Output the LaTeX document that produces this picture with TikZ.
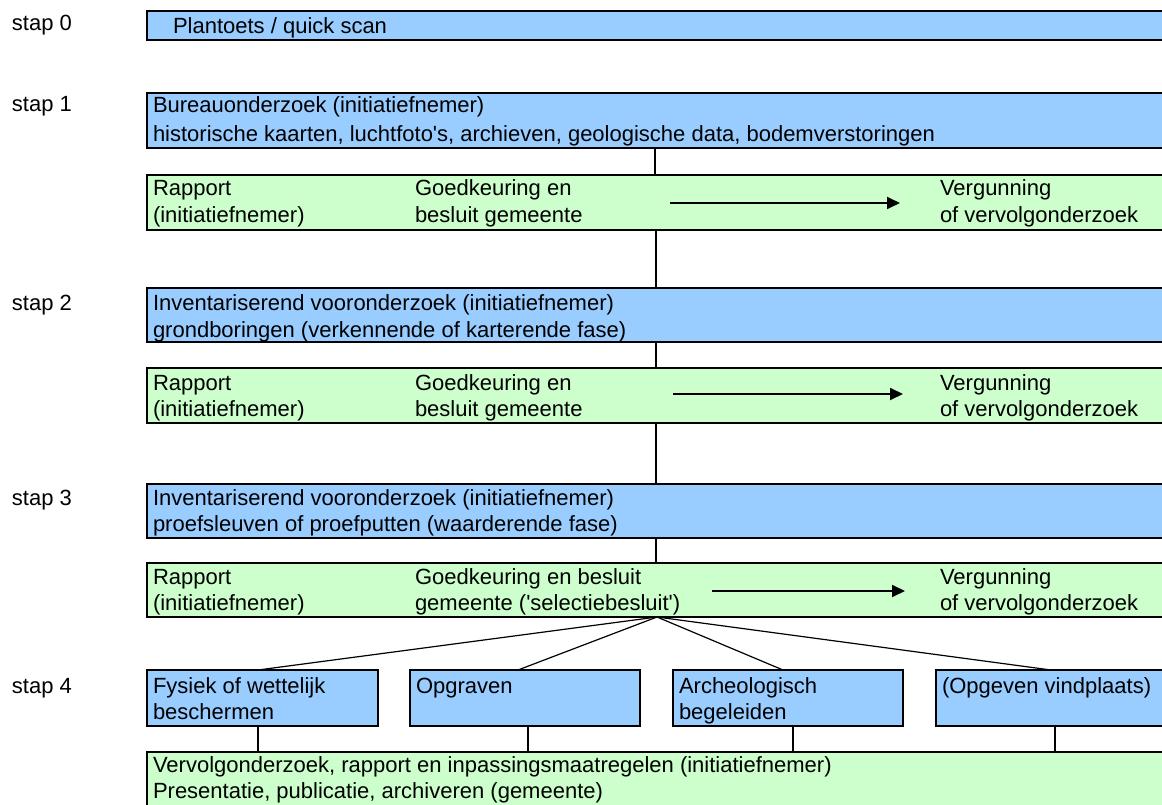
\documentclass[tikz,border=0pt]{standalone}
\usepackage{fontspec}
\setmainfont{Liberation Sans}
\usetikzlibrary{arrows.meta}
\definecolor{boxblue}{HTML}{99CCFF}
\definecolor{boxgreen}{HTML}{CCFFCC}
\tikzset{
  box/.style={draw=black, line width=1.6pt, rectangle, inner sep=0pt, outer sep=0pt, anchor=north west},
  bluebox/.style={box, fill=boxblue},
  greenbox/.style={box, fill=boxgreen},
  txt/.style={anchor=base west, inner sep=0pt, outer sep=0pt, font=\fontsize{22}{26}\selectfont},
  conn/.style={draw=black, line width=1.2pt},
  arr/.style={draw=black, line width=1.8pt, -{Triangle[length=13pt,width=12pt]}},
}
\begin{document}
\begin{tikzpicture}[x=1pt,y=-1pt]
\useasboundingbox (0,0) rectangle (1162,805);
\clip (0,0) rectangle (1162,805);
\fill[white] (0,0) rectangle (1162,805);

% step labels
\node[txt] (s0) at (12,31) {stap 0};
\node[txt] (s1) at (12,112) {stap 1};
\node[txt] (s2) at (12,310) {stap 2};
\node[txt] (s3) at (12,505) {stap 3};
\node[txt] (s4) at (12,693) {stap 4};

% boxes
\node[bluebox, minimum width=1028pt, minimum height=29pt] (b0) at (147,11) {};
\node[bluebox, minimum width=1028pt, minimum height=55pt] (b1) at (147,93) {};
\node[greenbox, minimum width=1028pt, minimum height=55pt] (g1) at (147,175) {};
\node[bluebox, minimum width=1028pt, minimum height=54pt] (b2) at (147,288) {};
\node[greenbox, minimum width=1028pt, minimum height=55pt] (g2) at (147,368) {};
\node[bluebox, minimum width=1028pt, minimum height=54pt] (b3) at (147,484) {};
\node[greenbox, minimum width=1028pt, minimum height=54pt] (g3) at (147,563) {};
\node[bluebox, minimum width=231pt, minimum height=56pt] (f1) at (147,670) {};
\node[bluebox, minimum width=230pt, minimum height=56pt] (f2) at (410,670) {};
\node[bluebox, minimum width=230pt, minimum height=56pt] (f3) at (673,670) {};
\node[bluebox, minimum width=240pt, minimum height=56pt] (f4) at (936,670) {};
\node[greenbox, minimum width=1028pt, minimum height=70pt] (g4) at (147,752) {};

% texts
\node[txt] (t0) at (173,34) {Plantoets / quick scan};
\node[txt] (t1a) at (153,113) {Bureauonderzoek (initiatiefnemer)};
\node[txt] (t1b) at (153,142) {historische kaarten, luchtfoto\textquotesingle s, archieven, geologische data, bodemverstoringen};

\node[txt] (r1a) at (153,196) {Rapport};
\node[txt] (r1b) at (153,223) {(initiatiefnemer)};
\node[txt] (k1a) at (415,196) {Goedkeuring en};
\node[txt] (k1b) at (415,223) {besluit gemeente};
\node[txt] (v1a) at (940,196) {Vergunning};
\node[txt] (v1b) at (940,223) {of vervolgonderzoek};

\node[txt] (t2a) at (153,310) {Inventariserend vooronderzoek (initiatiefnemer)};
\node[txt] (t2b) at (153,337) {grondboringen (verkennende of karterende fase)};

\node[txt] (r2a) at (153,390) {Rapport};
\node[txt] (r2b) at (153,416) {(initiatiefnemer)};
\node[txt] (k2a) at (415,390) {Goedkeuring en};
\node[txt] (k2b) at (415,416) {besluit gemeente};
\node[txt] (v2a) at (940,390) {Vergunning};
\node[txt] (v2b) at (940,416) {of vervolgonderzoek};

\node[txt] (t3a) at (153,505) {Inventariserend vooronderzoek (initiatiefnemer)};
\node[txt] (t3b) at (153,531) {proefsleuven of proefputten (waarderende fase)};

\node[txt] (r3a) at (153,584) {Rapport};
\node[txt] (r3b) at (153,610) {(initiatiefnemer)};
\node[txt] (k3a) at (415,584) {Goedkeuring en besluit};
\node[txt] (k3b) at (415,610) {gemeente (\textquotesingle selectiebesluit\textquotesingle)};
\node[txt] (v3a) at (940,584) {Vergunning};
\node[txt] (v3b) at (940,610) {of vervolgonderzoek};

\node[txt] (f1a) at (153,693) {Fysiek of wettelijk};
\node[txt] (f1b) at (153,719) {beschermen};
\node[txt] (f2a) at (416,693) {Opgraven};
\node[txt] (f3a) at (679,693) {Archeologisch};
\node[txt] (f3b) at (679,719) {begeleiden};
\node[txt] (f4a) at (942,693) {(Opgeven vindplaats)};

\node[txt] (g4a) at (153,772) {Vervolgonderzoek, rapport en inpassingsmaatregelen (initiatiefnemer)};
\node[txt] (g4b) at (153,798) {Presentatie, publicatie, archiveren (gemeente)};

% vertical connectors
\coordinate (xa) at (655,0);
\coordinate (xb) at (656,0);
\draw[conn] (b1.south -| xa) -- (g1.north -| xa);
\draw[conn] (g1.south -| xb) -- (b2.north -| xb);
\draw[conn] (b2.south -| xb) -- (g2.north -| xb);
\draw[conn] (g2.south -| xb) -- (b3.north -| xb);
\draw[conn] (b3.south -| xb) -- (g3.north -| xb);

% arrows in green boxes
\coordinate (a1s) at (670,203); \coordinate (a1e) at (900,203);
\coordinate (a2s) at (673,394); \coordinate (a2e) at (903,394);
\coordinate (a3s) at (712,591); \coordinate (a3e) at (905,591);
\draw[arr] (a1s) -- (a1e);
\draw[arr] (a2s) -- (a2e);
\draw[arr] (a3s) -- (a3e);

% fan
\coordinate (fan) at (657,0);
\coordinate (e1) at (258,0);
\coordinate (e2) at (518,0);
\coordinate (e3) at (783,0);
\coordinate (e4) at (1051,0);
\draw[conn] (g3.south -| fan) -- (f1.north -| e1);
\draw[conn] (g3.south -| fan) -- (f2.north -| e2);
\draw[conn] (g3.south -| fan) -- (f3.north -| e3);
\draw[conn] (g3.south -| fan) -- (f4.north -| e4);

% down to final box
\coordinate (d1) at (258,0);
\coordinate (d2) at (528,0);
\coordinate (d3) at (793,0);
\coordinate (d4) at (1055,0);
\draw[conn] (f1.south -| d1) -- (g4.north -| d1);
\draw[conn] (f2.south -| d2) -- (g4.north -| d2);
\draw[conn] (f3.south -| d3) -- (g4.north -| d3);
\draw[conn] (f4.south -| d4) -- (g4.north -| d4);
\end{tikzpicture}
\end{document}
